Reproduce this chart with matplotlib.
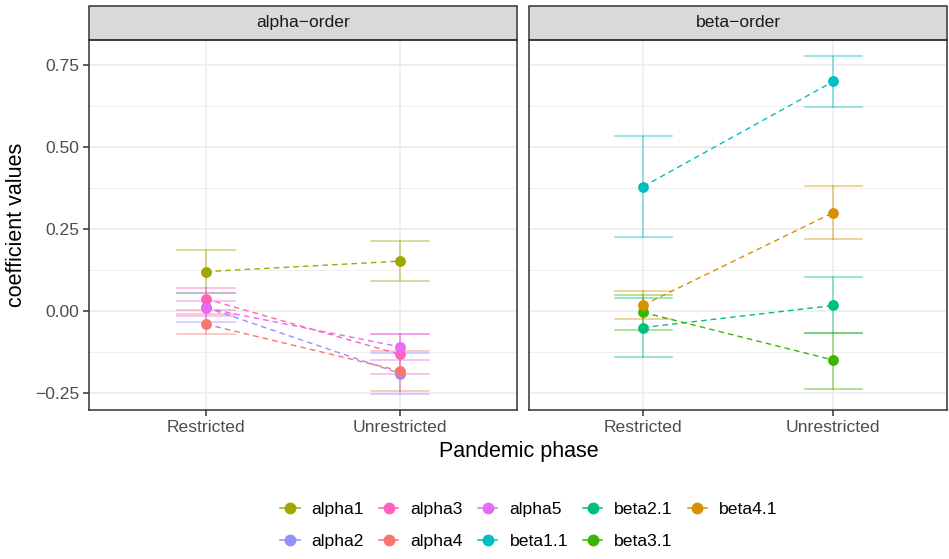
import matplotlib
matplotlib.use("Agg")
import matplotlib.pyplot as plt
from matplotlib.lines import Line2D
from matplotlib.patches import Rectangle
from matplotlib.ticker import FixedLocator, FuncFormatter

plt.rcParams["font.family"] = ["Liberation Sans", "DejaVu Sans"]

phases = ["Restricted", "Unrestricted"]

# alpha-order panel
alpha_names = ["alpha1", "alpha2", "alpha3", "alpha4", "alpha5"]
alpha_mean = [[0.120, 0.152], [0.011, -0.190], [0.037, -0.132], [-0.040, -0.182], [0.009, -0.109]]
alpha_low = [[0.055, 0.091], [-0.034, -0.251], [0.004, -0.193], [-0.069, -0.243], [-0.014, -0.149]]
alpha_high = [[0.185, 0.214], [0.056, -0.129], [0.070, -0.071], [-0.010, -0.121], [0.031, -0.070]]

# beta-order panel
beta_names = ["beta1.1", "beta2.1", "beta3.1", "beta4.1"]
beta_mean = [[0.379, 0.699], [-0.050, 0.017], [-0.004, -0.149], [0.018, 0.300]]
beta_low = [[0.226, 0.622], [-0.141, -0.066], [-0.057, -0.236], [-0.024, 0.218]]
beta_high = [[0.533, 0.776], [0.039, 0.104], [0.049, -0.066], [0.061, 0.381]]

colors = {
    "alpha1": "#A3A500", "alpha2": "#9590FF", "alpha3": "#FF62BC",
    "alpha4": "#F8766D", "alpha5": "#E76BF3", "beta1.1": "#00BFC4",
    "beta2.1": "#00BF7D", "beta3.1": "#39B600", "beta4.1": "#D89000",
}

W, H = 949, 559
fig = plt.figure(figsize=(W / 100, H / 100), dpi=100)
fig.patch.set_facecolor("white")

txt_gray = "#4D4D4D"
ylim = (-0.302, 0.826)
small = 12.6
big = 15.5


def panel(rect, title, names, mean, low, high, show_y):
    ax = fig.add_axes(rect)
    xs = range(len(phases))
    for i, nm in enumerate(names):
        c = colors[nm]
        for j in xs:
            ax.plot([j, j], [low[i][j], high[i][j]], color=c, lw=1.1, alpha=0.5, zorder=2)
            ax.plot([j - 0.15, j + 0.15], [low[i][j]] * 2, color=c, lw=1.1, alpha=0.5, zorder=2)
            ax.plot([j - 0.15, j + 0.15], [high[i][j]] * 2, color=c, lw=1.1, alpha=0.5, zorder=2)
        ax.plot(list(xs), mean[i], color=c, lw=1.0, ls=(0, (4, 3)), zorder=3)
        ax.plot(list(xs), mean[i], "o", color=c, ms=7.8, mec="none", zorder=4)
    ax.set_xlim(-0.6, 1.6)
    ax.set_ylim(*ylim)
    ax.set_xticks(list(xs))
    ax.set_xticklabels(phases)
    ax.yaxis.set_major_locator(FixedLocator([-0.25, 0, 0.25, 0.5, 0.75]))
    ax.yaxis.set_minor_locator(FixedLocator([-0.125, 0.125, 0.375, 0.625]))
    ax.yaxis.set_major_formatter(FuncFormatter(lambda v, p: f"{v:.2f}".replace("-", "\u2212")))
    ax.grid(which="major", color="#EBEBEB", lw=1.1, zorder=0)
    ax.grid(which="minor", axis="y", color="#EBEBEB", lw=0.55, zorder=0)
    ax.set_axisbelow(True)
    for s in ax.spines.values():
        s.set_color("#333333")
        s.set_linewidth(1.1)
    ax.tick_params(which="major", color="#333333", length=4, width=1.1,
                   labelsize=small, labelcolor=txt_gray, pad=3)
    ax.tick_params(which="minor", length=0)
    if not show_y:
        ax.tick_params(axis="y", left=False, labelleft=False)
    # facet strip
    strip_h = 33.7 / (rect[3] * H)
    ax.add_patch(Rectangle((0, 1), 1, strip_h, transform=ax.transAxes, clip_on=False,
                           facecolor="#D9D9D9", edgecolor="#333333", lw=1.1))
    ax.text(0.5, 1 + strip_h / 2, title, transform=ax.transAxes, ha="center",
            va="center", fontsize=small, color="#1A1A1A")
    return ax


bottom = 1 - 410.3 / H
height = (410.3 - 39.7) / H
ax1 = panel([89.3 / W, bottom, (516.7 - 89.3) / W, height], "alpha\u2212order",
            alpha_names, alpha_mean, alpha_low, alpha_high, True)
ax2 = panel([529 / W, bottom, (947.5 - 529) / W, height], "beta\u2212order",
            beta_names, beta_mean, beta_low, beta_high, False)

ax1.set_ylabel("coefficient values", fontsize=big, labelpad=6)
fig.text((89.3 + 947.5) / 2 / W, 1 - 452 / H, "Pandemic phase", ha="center",
         va="center", fontsize=big)

all_names = alpha_names + beta_names
handles = [Line2D([0], [0], color=colors[n], marker="o", ms=7.5, lw=1.1) for n in all_names]
fig.legend(handles, all_names, loc="center", bbox_to_anchor=(529 / W, 1 - 525.5 / H),
           ncol=5, frameon=False, fontsize=small, handlelength=1.1, handletextpad=0.7,
           columnspacing=0.85, labelspacing=0.95, borderpad=0)

fig.savefig("out.png", dpi=100)
